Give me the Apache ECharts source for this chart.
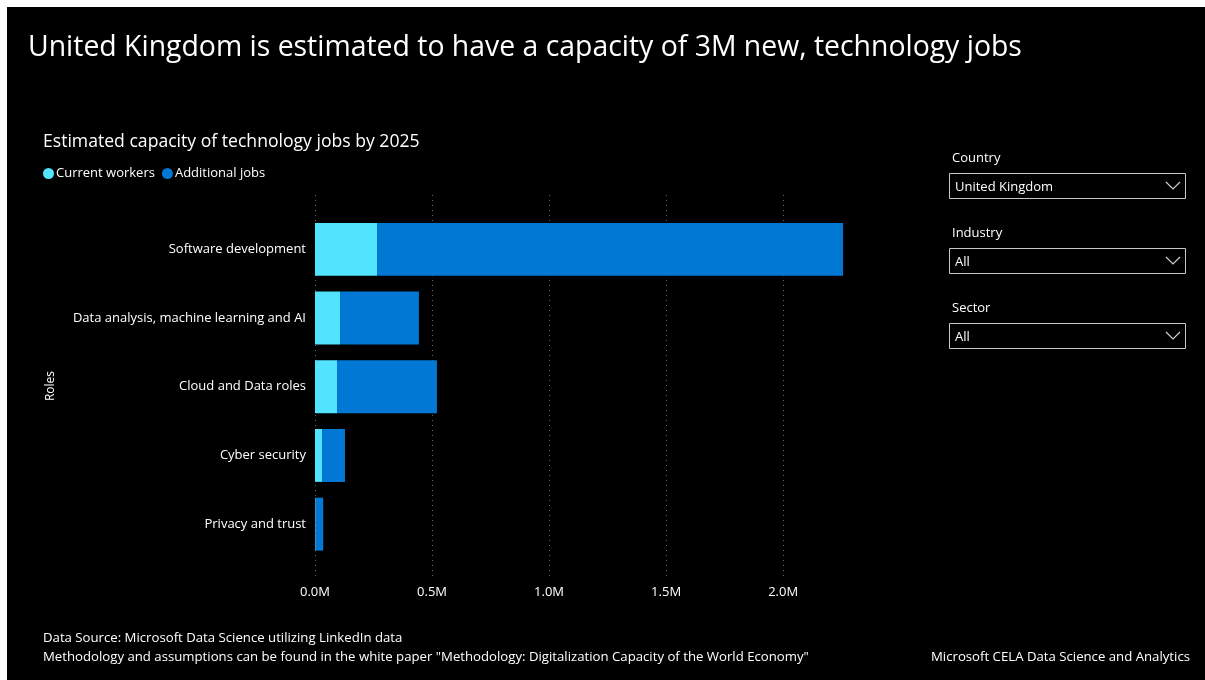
<!DOCTYPE html>
<html>
<head>
<meta charset="utf-8">
<title>Technology jobs capacity</title>
<script src="https://cdn.jsdelivr.net/npm/echarts@6/dist/echarts.min.js"></script>
<style>
  html, body { margin: 0; padding: 0; background: #ffffff; }
  #chart { position: absolute; left: 7px; top: 7px; width: 1198px; height: 673px; }
</style>
</head>
<body>
<div id="chart"></div>
<script>
// Roles and estimated job counts (people)
const roles = [
  'Software development',
  'Data analysis, machine learning and AI',
  'Cloud and Data roles',
  'Cyber security',
  'Privacy and trust'
];
const currentWorkers = [265000, 107000, 94000, 30000, 3000];
const additionalJobs = [1991000, 337000, 427000, 98000, 32000];
const xTicks = [0, 500000, 1000000, 1500000, 2000000];

const filters = [
  { label: 'Country', value: 'United Kingdom' },
  { label: 'Industry', value: 'All' },
  { label: 'Sector', value: 'All' }
];

const FONT = '"Open Sans", "Noto Sans", sans-serif';
const OX = 7, OY = 7; // chart sits inside a thin page margin
const X = v => v - OX;
const Y = v => v - OY;

const xMax = 2260000;
const xStep = xTicks[1] - xTicks[0];
const fmtM = v => (v / 1e6).toFixed(1) + 'M';

const plotLeft = X(315), plotWidth = 529;

// Drop-down filter boxes on the right
const filterGraphics = [];
filters.forEach((f, i) => {
  const top = 173 + i * 75;
  filterGraphics.push({
    type: 'text', left: X(952), top: Y(top - 21),
    style: { text: f.label, fill: '#ffffff', font: '13px ' + FONT }
  });
  filterGraphics.push({
    type: 'rect', shape: { x: X(949) + 0.5, y: Y(top) + 0.5, width: 236, height: 25 },
    style: { fill: 'none', stroke: '#c8c8c8', lineWidth: 1 }
  });
  filterGraphics.push({
    type: 'text', left: X(955), top: Y(top + 8),
    style: { text: f.value, fill: '#ffffff', font: '13px ' + FONT }
  });
  filterGraphics.push({
    type: 'polyline',
    shape: { points: [[X(1166), Y(top + 9)], [X(1173), Y(top + 16)], [X(1180), Y(top + 9)]] },
    style: { stroke: '#d0d0d0', lineWidth: 1.2, fill: 'none' }
  });
});

const chart = echarts.init(document.getElementById('chart'), null, { renderer: 'canvas' });

const titleStyle = size => ({ color: '#ffffff', fontSize: size, fontWeight: 'normal', fontFamily: FONT });

chart.setOption({
  backgroundColor: '#000000',
  animation: false,
  textStyle: { fontFamily: FONT },
  title: [
    {
      text: 'United Kingdom is estimated to have a capacity of 3M new, technology jobs',
      left: X(28), top: Y(34), padding: 0,
      textStyle: titleStyle(28.4)
    },
    {
      text: 'Estimated capacity of technology jobs by 2025',
      left: X(43), top: Y(133), padding: 0,
      textStyle: titleStyle(17.6)
    },
    {
      text: 'Data Source: Microsoft Data Science utilizing LinkedIn data',
      left: X(43), top: Y(632), padding: 0,
      textStyle: titleStyle(13.2)
    },
    {
      text: 'Methodology and assumptions can be found in the white paper "Methodology: Digitalization Capacity of the World Economy"',
      left: X(43), top: Y(651), padding: 0,
      textStyle: titleStyle(13.2)
    },
    {
      text: 'Microsoft CELA Data Science and Analytics',
      right: 1205 - 1190, top: Y(651), padding: 0,
      textStyle: titleStyle(13.2)
    }
  ],
  legend: {
    left: X(43), top: Y(167), padding: 0,
    icon: 'circle', itemWidth: 11, itemHeight: 11, itemGap: 7,
    textStyle: { color: '#ffffff', fontSize: 13, padding: [0, 0, 0, -3] },
    data: ['Current workers', 'Additional jobs']
  },
  graphic: [
    {
      type: 'text', left: X(45), top: Y(371), rotation: Math.PI / 2,
      style: { text: 'Roles', fill: '#ffffff', font: '12px ' + FONT }
    },
    ...filterGraphics
  ],
  grid: [
    { left: plotLeft, top: Y(215), width: plotWidth, height: 343.5, containLabel: false },
    { left: plotLeft, top: Y(195), width: plotWidth, height: 383, containLabel: false }
  ],
  xAxis: [
    {
      gridIndex: 0, type: 'value', min: 0, max: xMax, interval: xStep,
      axisLine: { show: false }, axisTick: { show: false },
      axisLabel: { show: false }, splitLine: { show: false }
    },
    {
      gridIndex: 1, type: 'value', min: 0, max: xMax, interval: xStep,
      axisLine: { show: false }, axisTick: { show: false },
      axisLabel: { color: '#ffffff', fontSize: 13, margin: 8, formatter: fmtM, showMaxLabel: false },
      splitLine: { show: true, showMaxLine: false, lineStyle: { color: '#6a6a6a', type: [1, 4], width: 1 } }
    }
  ],
  yAxis: [
    {
      gridIndex: 0, type: 'category', data: roles, inverse: true,
      axisLine: { show: false }, axisTick: { show: false },
      axisLabel: { color: '#ffffff', fontSize: 13, margin: 9 }
    },
    {
      gridIndex: 1, type: 'category', data: roles, inverse: true, show: false
    }
  ],
  series: [
    {
      name: 'Current workers', type: 'bar', stack: 'jobs',
      xAxisIndex: 0, yAxisIndex: 0,
      data: currentWorkers, barCategoryGap: '23%',
      itemStyle: { color: '#52e3ff' }
    },
    {
      name: 'Additional jobs', type: 'bar', stack: 'jobs',
      xAxisIndex: 0, yAxisIndex: 0,
      data: additionalJobs, barCategoryGap: '23%',
      itemStyle: { color: '#0078d4' }
    }
  ]
});
</script>
</body>
</html>
